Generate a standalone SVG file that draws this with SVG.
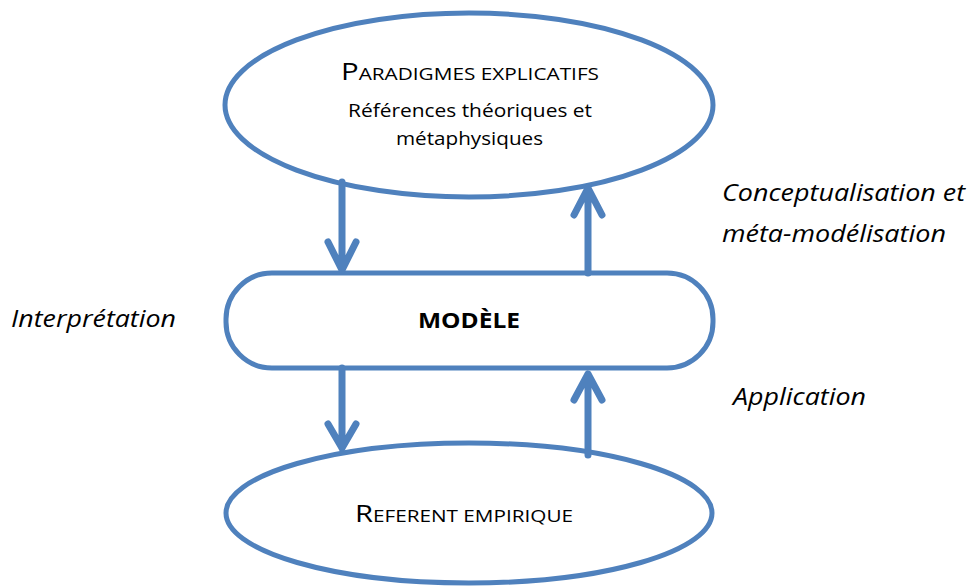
<svg xmlns="http://www.w3.org/2000/svg" width="970" height="586" viewBox="0 0 970 586">
<style>
.shape{fill:#fff;stroke:#4F81BD;stroke-width:5}
.conn{fill:none;stroke:#4F81BD;stroke-width:7;stroke-linecap:round;stroke-linejoin:round}
.t{font-family:"Open Sans","Liberation Sans",sans-serif;fill:#000}
.lbl{font-family:"Open Sans","Liberation Sans",sans-serif;font-style:italic;font-size:24px;fill:#000}
</style>
<rect width="970" height="586" fill="#fff"/>
<g id="paradigmes">
<ellipse class="shape" cx="469" cy="105" rx="244" ry="92"/>
<text class="t" x="341" y="80" font-size="24" textLength="258" lengthAdjust="spacingAndGlyphs">P<tspan font-size="17">ARADIGMES EXPLICATIFS</tspan></text>
<text class="t" x="348" y="117" font-size="19" textLength="244" lengthAdjust="spacingAndGlyphs">Références théoriques et</text>
<text class="t" x="396" y="145" font-size="19" textLength="147" lengthAdjust="spacingAndGlyphs">métaphysiques</text>
</g>
<g id="modele">
<rect class="shape" x="226" y="273" width="487" height="95" rx="46" ry="46"/>
<text class="t" x="418" y="328" font-size="21" font-weight="bold" textLength="102" lengthAdjust="spacingAndGlyphs">MODÈLE</text>
</g>
<g id="referent">
<ellipse class="shape" cx="469" cy="513" rx="243" ry="70"/>
<text class="t" x="355" y="522" font-size="24" textLength="218" lengthAdjust="spacingAndGlyphs">R<tspan font-size="17">EFERENT EMPIRIQUE</tspan></text>
</g>
<g id="connectors">
<path class="conn" d="M342 182 V270 M328 242 L342 270 L356 242"/>
<path class="conn" d="M588 273 V188 M574 215 L588 188 L602 215"/>
<path class="conn" d="M342 368 V448 M328 424 L342 448 L356 424"/>
<path class="conn" d="M588 455 V374 M574 400 L588 374 L602 400"/>
</g>
<g id="labels">
<text class="lbl" x="11" y="327" textLength="165" lengthAdjust="spacingAndGlyphs">Interprétation</text>
<text class="lbl" x="722" y="201" textLength="243" lengthAdjust="spacingAndGlyphs">Conceptualisation et</text>
<text class="lbl" x="722" y="242" textLength="224" lengthAdjust="spacingAndGlyphs">méta-modélisation</text>
<text class="lbl" x="733" y="405" textLength="133" lengthAdjust="spacingAndGlyphs">Application</text>
</g>
</svg>
